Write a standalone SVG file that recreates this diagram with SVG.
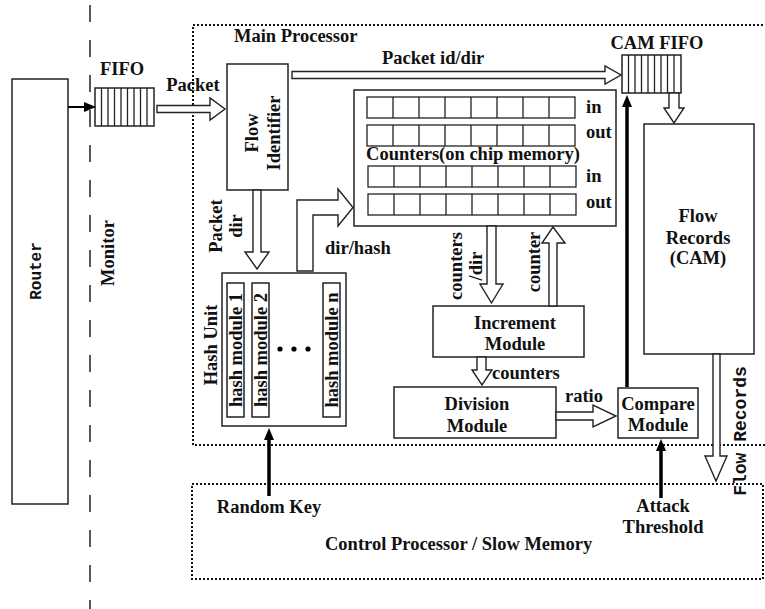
<svg xmlns="http://www.w3.org/2000/svg" width="765" height="609" viewBox="0 0 765 609">
<style>
.box{fill:#fff;stroke:#222;stroke-width:1.5}
.cell{fill:none;stroke:#222;stroke-width:1.3}
.hollow{fill:#fff;stroke:#222;stroke-width:1.4;stroke-linejoin:miter}
.dotted{fill:none;stroke:#111;stroke-width:2;stroke-dasharray:2 2}
.dash{fill:none;stroke:#222;stroke-width:1.5;stroke-dasharray:17 18}
.thick{stroke:#000;stroke-width:3.5;fill:none}
.thin{stroke:#000;stroke-width:2;fill:none}
.t{font-family:"Liberation Serif","Times New Roman",serif;font-weight:bold;font-size:18.5px;fill:#111}
.c{text-anchor:middle}
.m{font-family:"Liberation Mono","Courier New",monospace;font-weight:bold;fill:#111}
</style>
<defs>
<marker id="ah" markerUnits="userSpaceOnUse" markerWidth="12" markerHeight="10" viewBox="0 0 12 10" refX="0" refY="5" orient="auto">
<path d="M0,0 L12,5 L0,10 z" fill="#000"/>
</marker>
</defs>

<!-- monitor boundary -->
<line class="dash" x1="90" y1="5" x2="90" y2="609"/>
<text class="t c" transform="translate(114,253) rotate(-90)">Monitor</text>

<g id="router">
<rect class="box" x="12" y="79" width="56" height="425"/>
<text class="m c" font-size="16" transform="translate(41,271) rotate(-90)">Router</text>
</g>

<g id="fifo">
<rect class="box" x="95" y="88" width="59" height="38"/>
<path class="cell" d="M101.5,88V126M108,88V126M114.5,88V126M121,88V126M127.5,88V126M134,88V126M140.5,88V126M147,88V126"/>
<text class="t c" x="122" y="75">FIFO</text>
</g>

<g id="main-processor">
<rect class="dotted" x="193" y="25" width="600" height="420"/>
<text class="t" x="234" y="42">Main Processor</text>
</g>

<g id="control-processor">
<rect class="dotted" x="192" y="484" width="571" height="95"/>
<text class="t" x="325" y="550">Control Processor / Slow Memory</text>
<text class="t c" x="269" y="513">Random Key</text>
<text class="t c" x="663" y="512">Attack</text>
<text class="t c" x="663" y="533">Threshold</text>
</g>

<g id="flow-identifier">
<rect class="box" x="227" y="64" width="61" height="126"/>
<text class="t c" transform="translate(258,133) rotate(-90)">Flow</text>
<text class="t c" transform="translate(280,133) rotate(-90)">Identifier</text>
</g>

<g id="cam-fifo">
<rect class="box" x="622" y="55" width="59" height="38"/>
<path class="cell" d="M628.5,55V93M635,55V93M641.5,55V93M648,55V93M654.5,55V93M661,55V93M667.5,55V93M674,55V93"/>
<text class="t c" x="657" y="49">CAM FIFO</text>
</g>

<g id="counters">
<rect class="box" x="354" y="90" width="262" height="136"/>
<g class="cell">
<rect x="367" y="97" width="208" height="21"/>
<rect x="367" y="125" width="208" height="21"/>
<rect x="368" y="166" width="208" height="21"/>
<rect x="368" y="194" width="208" height="21"/>
<path d="M393,97V118M419,97V118M445,97V118M471,97V118M497,97V118M523,97V118M549,97V118"/>
<path d="M393,125V146M419,125V146M445,125V146M471,125V146M497,125V146M523,125V146M549,125V146"/>
<path d="M394,166V187M420,166V187M446,166V187M472,166V187M498,166V187M524,166V187M550,166V187"/>
<path d="M394,194V215M420,194V215M446,194V215M472,194V215M498,194V215M524,194V215M550,194V215"/>
</g>
<text class="t" x="586" y="113">in</text>
<text class="t" x="586" y="138">out</text>
<text class="t c" x="473" y="160">Counters(on chip memory)</text>
<text class="t" x="586" y="182">in</text>
<text class="t" x="586" y="208">out</text>
</g>

<g id="flow-records">
<rect class="box" x="644" y="124" width="110" height="230"/>
<text class="t c" x="698" y="222">Flow</text>
<text class="t c" x="698" y="244">Records</text>
<text class="t c" x="698" y="264">(CAM)</text>
</g>

<g id="hash-unit">
<rect class="box" x="222" y="273" width="124" height="153"/>
<rect class="box" x="227" y="283" width="17" height="134"/>
<rect class="box" x="252" y="283" width="17" height="134"/>
<rect class="box" x="323" y="283" width="17" height="134"/>
<text class="t c" transform="translate(242,350) rotate(-90)">hash module 1</text>
<text class="t c" transform="translate(267,350) rotate(-90)">hash module 2</text>
<text class="t c" transform="translate(338,350) rotate(-90)">hash module n</text>
<circle cx="280" cy="349" r="2.6" fill="#000"/>
<circle cx="294" cy="349" r="2.6" fill="#000"/>
<circle cx="308" cy="349" r="2.6" fill="#000"/>
<text class="t c" transform="translate(217,345) rotate(-90)">Hash Unit</text>
</g>

<g id="increment-module">
<rect class="box" x="433" y="306" width="151" height="51"/>
<text class="t c" x="515" y="329">Increment</text>
<text class="t c" x="515" y="350">Module</text>
</g>

<g id="division-module">
<rect class="box" x="394" y="387" width="162" height="51"/>
<text class="t c" x="477" y="410">Division</text>
<text class="t c" x="477" y="432">Module</text>
</g>

<g id="compare-module">
<rect class="box" x="618" y="388" width="80" height="50"/>
<text class="t c" x="658" y="410">Compare</text>
<text class="t c" x="658" y="431">Module</text>
</g>

<g id="connectors">
<line class="thin" x1="68" y1="107" x2="84" y2="107" marker-end="url(#ah)"/>
<polygon class="hollow" points="157,105.5 210,105.5 210,98 225,109 210,120 210,112.5 157,112.5"/>
<text class="t c" x="193" y="91">Packet</text>
<polygon class="hollow" points="292,71.5 605,71.5 605,66 621,75 605,84 605,78.5 292,78.5"/>
<text class="t" x="382" y="64">Packet id/dir</text>
<polygon class="hollow" points="669,93 679,93 679,108 684,108 674,123 664,108 669,108"/>
<polygon class="hollow" points="253,190 261,190 261,252 269,252 257,269 245,252 253,252"/>
<text class="t c" transform="translate(222,226) rotate(-90)">Packet</text>
<text class="t c" transform="translate(242,226) rotate(-90)">dir</text>
<polygon class="hollow" points="297,271 297,200 338,200 338,189 353,207.5 338,226 338,215 313,215 313,271"/>
<text class="t" x="325" y="254">dir/hash</text>
<polygon class="hollow" points="487,226 496,226 496,284 503,284 491.5,303 480,284 487,284"/>
<text class="t c" transform="translate(462,266) rotate(-90)">counters</text>
<text class="t c" transform="translate(482,266) rotate(-90)">/dir</text>
<polygon class="hollow" points="549,306 549,243 542,243 553,227 565,243 557,243 557,306"/>
<text class="t c" transform="translate(540,262) rotate(-90)">counter</text>
<polygon class="hollow" points="477,357 486,357 486,370 492,370 482,385 472,370 477,370"/>
<text class="t" x="492" y="379">counters</text>
<polygon class="hollow" points="556,412 593,412 593,405 616,416 593,427 593,420 556,420"/>
<text class="t c" x="584" y="402">ratio</text>
<line class="thick" x1="627" y1="387" x2="627" y2="107" marker-end="url(#ah)"/>
<polygon class="hollow" points="713,354 720,354 720,456 727,456 716,481 705,456 713,456"/>
<text class="m c" font-size="18" transform="translate(746,431) rotate(-90)">Flow Records</text>
<line class="thick" x1="269" y1="496" x2="269" y2="440" marker-end="url(#ah)"/>
<line class="thick" x1="661" y1="498" x2="661" y2="451" marker-end="url(#ah)"/>
</g>
</svg>
